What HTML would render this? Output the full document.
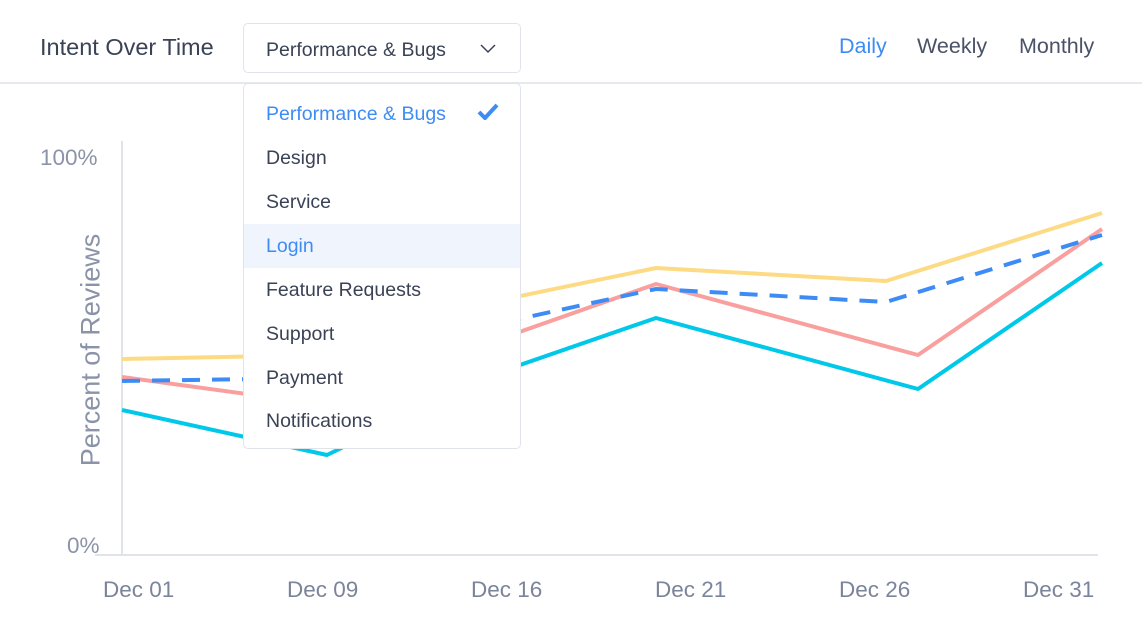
<!DOCTYPE html>
<html><head><style>
body{margin:0;width:1142px;height:640px;background:#fff;font-family:"Liberation Sans",sans-serif;position:relative;overflow:hidden}
.t{position:absolute;white-space:nowrap}
</style></head><body>
<div class="t" style="left:40px;top:34px;font-size:23.5px;color:#3a4256">Intent Over Time</div>
<div style="position:absolute;left:243px;top:23px;width:278px;height:50px;border:1.5px solid #e0e4ea;border-radius:5px;box-sizing:border-box"></div>
<div class="t" style="left:266px;top:39px;font-size:19.5px;color:#3a4256">Performance &amp; Bugs</div>
<svg style="position:absolute;left:480px;top:44px" width="16" height="10"><path d="M1 1 L8 8 L15 1" fill="none" stroke="#3a4256" stroke-width="1.5"/></svg>
<div class="t" style="left:839px;top:34px;font-size:21.5px;color:#3d8cf5">Daily</div>
<div class="t" style="left:917px;top:34px;font-size:21.5px;color:#4a5268">Weekly</div>
<div class="t" style="left:1019px;top:34px;font-size:21.5px;color:#4a5268">Monthly</div>
<div style="position:absolute;left:0;top:82px;width:1142px;height:2px;background:#e6e9ee"></div>

<div class="t" style="left:40px;top:145px;font-size:22.5px;color:#8a93a8">100%</div>
<div class="t" style="left:67px;top:533px;font-size:22.5px;color:#8a93a8">0%</div>
<div class="t" style="left:91px;top:350px;font-size:27px;color:#8a93a8;transform:translate(-50%,-50%) rotate(-90deg)">Percent of Reviews</div>

<svg style="position:absolute;left:0;top:0" width="1142" height="640">
<line x1="122" y1="141" x2="122" y2="554" stroke="#e0e4ea" stroke-width="2"/>
<line x1="95" y1="555" x2="1098" y2="555" stroke="#e0e4ea" stroke-width="2"/>
<g fill="none" stroke-width="4" stroke-linejoin="round">
<polyline stroke="#fddb84" points="122,359 327,355 491,302 656,268 886,281 1102,213"/>
<polyline stroke="#f9a09e" points="122,377 327,405 491,342 656,284 918,355 1102,229"/>
<polyline stroke="#00c8e8" points="122,410 327,455 491,375 656,318 918,389 1102,263"/>
<polyline stroke="#3d8cf5" stroke-dasharray="18,12" points="122,381 327,378 491,325 656,289 886,302 1102,235"/>
</g>
</svg>
<div class="t" style="left:103px;top:577px;font-size:22.5px;color:#7a849a">Dec 01</div>
<div class="t" style="left:287px;top:577px;font-size:22.5px;color:#7a849a">Dec 09</div>
<div class="t" style="left:471px;top:577px;font-size:22.5px;color:#7a849a">Dec 16</div>
<div class="t" style="left:655px;top:577px;font-size:22.5px;color:#7a849a">Dec 21</div>
<div class="t" style="left:839px;top:577px;font-size:22.5px;color:#7a849a">Dec 26</div>
<div class="t" style="left:1023px;top:577px;font-size:22.5px;color:#7a849a">Dec 31</div>

<div style="position:absolute;left:243px;top:83px;width:278px;height:366px;background:#fff;border:1.5px solid #e0e4ea;border-radius:5px;box-sizing:border-box;overflow:hidden">
<div style="position:absolute;left:0;top:140px;width:100%;height:44px;background:#f0f5fd"></div>
</div>
<div class="t" style="left:266px;top:103px;font-size:19.5px;color:#3d8cf5">Performance &amp; Bugs</div>
<svg style="position:absolute;left:477px;top:103px" width="22" height="17"><path d="M2 9 L8 15 L20 2" fill="none" stroke="#3d8cf5" stroke-width="4"/></svg>
<div class="t" style="left:266px;top:147px;font-size:19.5px;color:#3a4256">Design</div>
<div class="t" style="left:266px;top:191px;font-size:19.5px;color:#3a4256">Service</div>
<div class="t" style="left:266px;top:235px;font-size:19.5px;color:#3d8cf5">Login</div>
<div class="t" style="left:266px;top:279px;font-size:19.5px;color:#3a4256">Feature Requests</div>
<div class="t" style="left:266px;top:323px;font-size:19.5px;color:#3a4256">Support</div>
<div class="t" style="left:266px;top:367px;font-size:19.5px;color:#3a4256">Payment</div>
<div class="t" style="left:266px;top:410px;font-size:19.5px;color:#3a4256">Notifications</div>
</body></html>
